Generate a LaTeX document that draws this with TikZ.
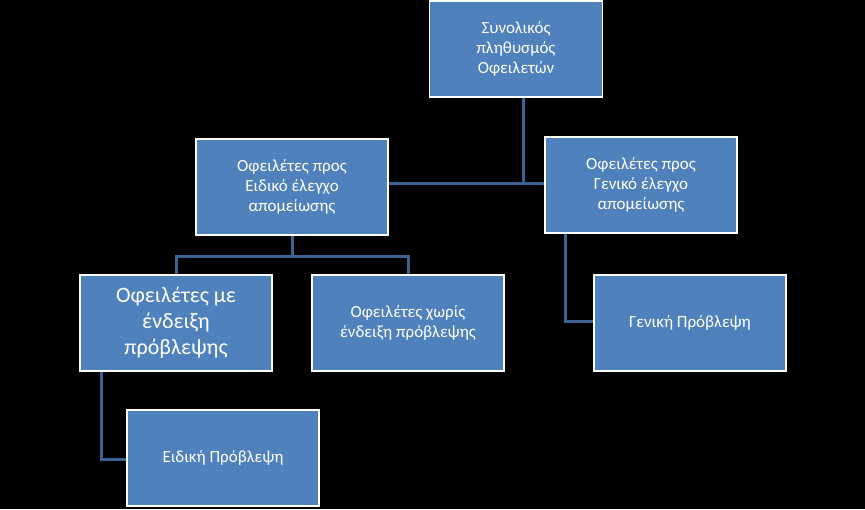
\documentclass[tikz,border=0pt]{standalone}
\usepackage{fontspec}
\setmainfont{Carlito}
\begin{document}
\begin{tikzpicture}[x=1pt,y=-1pt,
  box/.style={draw=white,line width=1.5pt,fill={rgb,255:red,79;green,129;blue,189},text=white,minimum width=192pt,minimum height=96pt,align=center,font=\fontsize{17}{20}\selectfont,inner sep=2pt},
  conn/.style={draw={rgb,255:red,60;green,98;blue,146},line width=3pt}]
\fill[black] (0,0) rectangle (865,509);
\useasboundingbox (0,0) rectangle (865,509);
\node[box,minimum width=173pt] (top) at (516,49) {Συνολικός\\πληθυσμός\\Οφειλετών};
\node[box] (lm) at (292,187) {Οφειλέτες προς\\Ειδικό έλεγχο\\απομείωσης};
\node[box] (rm) at (641,185) {Οφειλέτες προς\\Γενικό έλεγχο\\απομείωσης};
\node[box,font=\fontsize{22}{26}\selectfont] (bl) at (176,323) {Οφειλέτες με\\ένδειξη\\πρόβλεψης};
\node[box] (bm) at (408,323) {Οφειλέτες χωρίς\\ένδειξη πρόβλεψης};
\node[box] (gp) at (690,323) {Γενική Πρόβλεψη};
\node[box] (ep) at (223,458) {Ειδική Πρόβλεψη};
\coordinate (j1) at (523,183);
\draw[conn] (top.south -| j1) -- (j1);
\draw[conn] (lm.east |- j1) -- (rm.west |- j1);
\coordinate (j2) at (292,256);
\draw[conn] (lm.south) -- (j2);
\draw[conn] (bl.north) -- (bl.north |- j2) -- (bm.north |- j2) -- (bm.north);
\coordinate (j3) at (565,321);
\draw[conn] (rm.south -| j3) -- (j3) -- (gp.west |- j3);
\coordinate (j4) at (101,459);
\draw[conn] (bl.south -| j4) -- (j4) -- (ep.west |- j4);
\end{tikzpicture}
\end{document}
